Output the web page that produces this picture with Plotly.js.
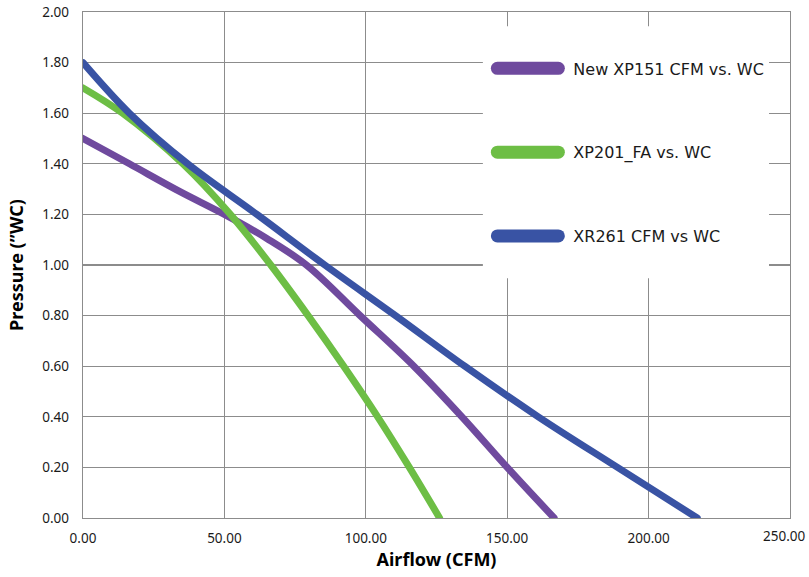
<!DOCTYPE html>
<html>
<head>
<meta charset="utf-8">
<script src="https://cdn.plot.ly/plotly-3.0.1.min.js"></script>
<style>
  html, body { margin: 0; padding: 0; background: #ffffff; }
  #chart { width: 809px; height: 577px; }
</style>
</head>
<body>
<div id="chart"></div>
<script>
// ---- data ----
const seriesNames = ["New XP151 CFM vs. WC", "XP201_FA vs. WC", "XR261 CFM vs WC"];

const xp151Airflow  = [0, 16.4, 34.3, 50, 65, 79, 98, 117, 134, 150, 166.6];
const xp151Pressure = [1.50, 1.40, 1.29, 1.20, 1.105, 1.00, 0.80, 0.60, 0.40, 0.20, 0.00];

const xp201Airflow  = [0, 14, 35.3, 52.1, 66.4, 79.6, 92.2, 104.2, 115.4, 126.1];
const xp201Pressure = [1.70, 1.60, 1.40, 1.20, 1.00, 0.80, 0.60, 0.40, 0.20, 0.00];

const xr261Airflow  = [0, 16.4, 37, 61.5, 85.5, 110.5, 135, 161, 189, 217.2];
const xr261Pressure = [1.80, 1.60, 1.40, 1.20, 1.00, 0.80, 0.60, 0.40, 0.20, 0.00];

const xTickVals = [0, 50, 100, 150, 200, 250];
const xTickText = ["0.00", "50.00", "100.00", "150.00", "200.00", "250.00"];
const yTickVals = [0, 0.2, 0.4, 0.6, 0.8, 1.0, 1.2, 1.4, 1.6, 1.8, 2.0];
const yTickText = ["0.00", "0.20", "0.40", "0.60", "0.80", "1.00", "1.20", "1.40", "1.60", "1.80", "2.00"];

// ---- styling ----
const colors = ["#6F4A9E", "#6DBE45", "#3953A4"];
const gridColor = "#8c8c8c";
const tickFont = { family: "Noto Sans, sans-serif", size: 13.5, color: "#1a1a1a" };
const titleFont = { family: "Noto Sans, sans-serif", size: 18, color: "#000000", weight: "bold" };

function lineTrace(x, y, i) {
  return {
    type: "scatter",
    mode: "lines",
    x: x,
    y: y,
    name: seriesNames[i],
    legendgroup: "g" + i,
    line: { color: colors[i], width: 7, shape: "spline", smoothing: 1 },
    hoverinfo: "x+y+name"
  };
}

const data = [
  lineTrace(xp151Airflow, xp151Pressure, 0),
  lineTrace(xp201Airflow, xp201Pressure, 1),
  lineTrace(xr261Airflow, xr261Pressure, 2)
];

// last x label sits shifted inward (as in the reference), drawn as an annotation
const lastIdx = xTickVals.length - 1;
const shownTickText = xTickText.map(function (t, i) { return i === lastIdx ? "" : t; });

const layout = {
  width: 809,
  height: 577,
  margin: { l: 83, r: 19, t: 12, b: 59, pad: 0 },
  paper_bgcolor: "#ffffff",
  plot_bgcolor: "#ffffff",
  showlegend: true,
  legend: {
    x: 0.579, xanchor: "left",
    y: 0.922, yanchor: "top",
    bgcolor: "rgba(0,0,0,0)",
    borderwidth: 0,
    itemwidth: 61,
    tracegroupgap: 60,
    traceorder: "grouped",
    font: { family: "DejaVu Sans, sans-serif", size: 16, color: "#1a1a1a" }
  },
  xaxis: {
    range: [0, 250],
    tickvals: xTickVals,
    ticktext: shownTickText,
    tickfont: tickFont,
    ticks: "",
    ticklabelstandoff: 7,
    showgrid: true,
    gridcolor: gridColor,
    gridwidth: 1.3,
    zeroline: false,
    showline: true,
    mirror: true,
    linecolor: gridColor,
    linewidth: 1.3,
    fixedrange: true,
    title: { text: "Airflow (CFM)", font: titleFont, standoff: 8 }
  },
  yaxis: {
    range: [0, 2],
    tickvals: yTickVals,
    ticktext: yTickText,
    tickfont: tickFont,
    ticks: "",
    ticklabelstandoff: 10,
    showgrid: true,
    gridcolor: gridColor,
    gridwidth: 1.3,
    zeroline: false,
    showline: true,
    mirror: true,
    linecolor: gridColor,
    linewidth: 1.3,
    fixedrange: true,
    title: { text: "Pressure (”WC)", font: titleFont, standoff: 14 }
  },
  annotations: [
    {
      x: xTickVals[lastIdx], xref: "x",
      y: 0, yref: "paper",
      text: xTickText[lastIdx],
      showarrow: false,
      xanchor: "right", yanchor: "top",
      xshift: 18, yshift: -7,
      font: tickFont
    }
  ],
  shapes: [
    {
      type: "rect",
      xref: "x domain", yref: "y domain",
      x0: 0.5656, x1: 0.9703, y0: 0.474, y1: 0.972,
      fillcolor: "#ffffff",
      line: { width: 0 },
      layer: "above"
    }
  ]
};

Plotly.newPlot("chart", data, layout, { displayModeBar: false, staticPlot: true }).then(function (gd) {
  gd.querySelectorAll(".legend [clip-path]").forEach(function (el) {
    el.removeAttribute("clip-path");
  });
  gd.querySelectorAll(".legend .legendlines path").forEach(function (p) {
    p.style.strokeWidth = "13px";
    p.style.strokeLinecap = "round";
  });
  gd.querySelectorAll(".legend .legendtext").forEach(function (t) {
    const x0 = parseFloat(t.getAttribute("x")) || 0;
    t.setAttribute("x", x0 + 10);
  });
  gd.querySelectorAll(".scatterlayer .js-line").forEach(function (p) {
    p.style.strokeLinecap = "round";
  });
});
</script>
</body>
</html>
